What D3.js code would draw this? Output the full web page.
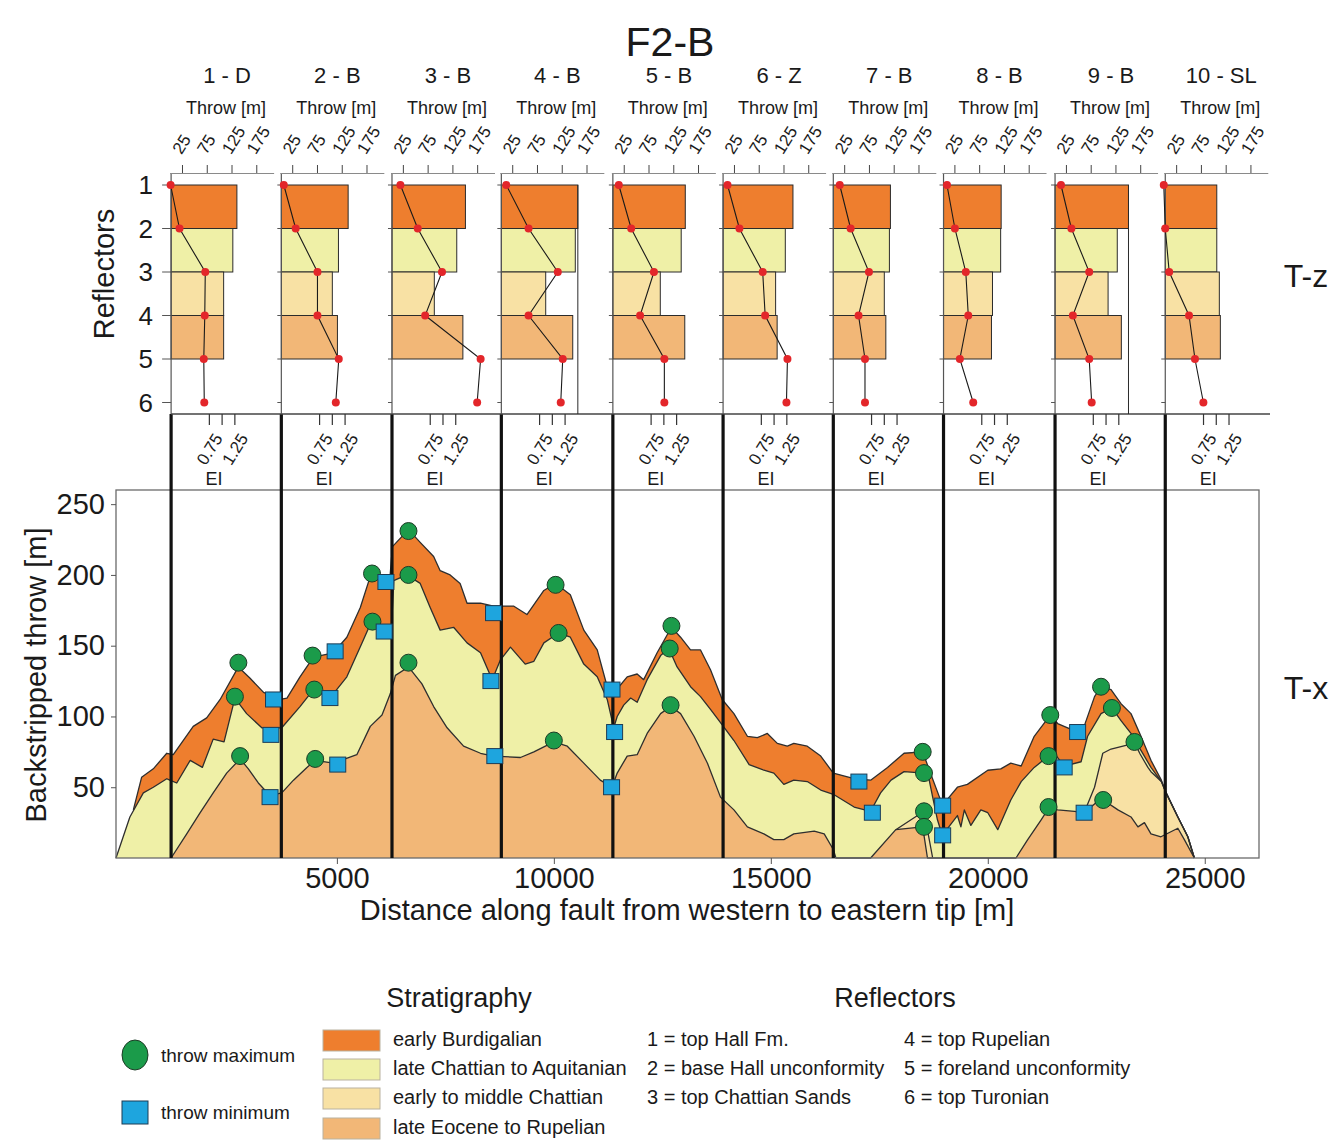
<!DOCTYPE html>
<html>
<head>
<meta charset="utf-8">
<script src="https://cdn.jsdelivr.net/npm/d3@7"></script>
<style>
  body { margin: 0; background: #fff; }
  text { font-family: "Liberation Sans", Arial, sans-serif; fill: #1a1a1a; }
</style>
</head>
<body>
<svg id="chart" width="1336" height="1141"></svg>
<script>
// ---- data ----
const sectionNames = ["1 - D", "2 - B", "3 - B", "4 - B", "5 - B", "6 - Z", "7 - B", "8 - B", "9 - B", "10 - SL"];
// distance of each section along the fault [m]
const sectionDist = [1180, 3720, 6270, 8790, 11360, 13900, 16440, 18980, 21550, 24090];
const reflectors = [1, 2, 3, 4, 5, 6];

// T-z: throw [m] at reflectors 1..6, per section
const throwAtReflector = [
  [2, 20, 72, 71, 69, 70],
  [8, 32, 76, 76, 119, 113],
  [20, 55, 104, 70, 182, 175],
  [13, 58, 117, 58, 127, 123],
  [15, 40, 86, 58, 107, 107],
  [12, 36, 83, 88, 133, 131],
  [16, 38, 75, 54, 67, 67],
  [10, 26, 48, 53, 36, 63],
  [15, 36, 72, 39, 72, 77],
  [0, 3, 11, 51, 63, 80]
];
// expansion index of the intervals 1-2, 2-3, 3-4, 4-5
const eiByInterval = [
  [1.29, 1.21, 1.03, 1.03],
  [1.31, 1.12, 1.00, 1.10],
  [1.44, 1.27, 0.83, 1.39],
  [1.50, 1.45, 0.87, 1.40],
  [1.42, 1.34, 0.93, 1.41],
  [1.37, 1.22, 1.03, 1.06],
  [1.12, 1.10, 1.00, 1.03],
  [1.13, 1.12, 0.96, 0.94],
  [1.44, 1.22, 1.04, 1.30],
  [1.01, 1.01, 1.06, 1.08]
];
// sections whose first EI bar edge runs down to the base line
const extendedEdge = [3, 8];

const throwTicks = [25, 75, 125, 175];
const eiTicks = [0.75, 1, 1.25];
const eiLabels = [0.75, 1.25];
const yTicks = [50, 100, 150, 200, 250];
const xTicks = [5000, 10000, 15000, 20000, 25000];

// T-x: backstripped throw [m] along the fault, top of each unit
const topBurdigalian = [
  [310, 34], [500, 57], [770, 63], [1080, 74], [1230, 73], [1690, 93], [2000, 99], [2310, 112],
  [2730, 135], [3000, 127], [3310, 117], [3690, 112], [3850, 113], [4150, 128], [4460, 142],
  [4920, 145], [5230, 156], [5540, 177], [5770, 199], [6070, 196], [6210, 193], [6280, 220],
  [6650, 232], [6920, 223], [7230, 213], [7380, 203], [7610, 200], [7840, 194], [8000, 180],
  [8310, 180], [8610, 178], [9070, 178], [9380, 172], [9770, 189], [10040, 194], [10380, 186],
  [10690, 161], [11000, 147], [11230, 121], [11340, 119], [11420, 118], [11690, 128], [11920, 130],
  [12070, 126], [12380, 145], [12710, 163], [12920, 156], [13150, 147], [13380, 147], [13610, 133],
  [13880, 112], [14150, 102], [14460, 86], [14690, 85], [14920, 88], [15150, 81], [15380, 79],
  [15530, 81], [15840, 79], [16150, 72], [16440, 60], [16920, 56], [17300, 55], [17690, 64],
  [18070, 74], [18500, 75], [18690, 59], [18960, 37], [19030, 40], [19300, 50], [19530, 52],
  [20000, 62], [20300, 63], [20530, 67], [20770, 65], [21070, 86], [21440, 101], [21610, 95],
  [22070, 89], [22220, 93], [22460, 114], [22610, 121], [22840, 119], [23070, 109], [23300, 102],
  [23530, 86], [23760, 69], [24000, 55], [24110, 46], [24380, 29], [24610, 15], [24760, 0]
];
const topAquitanian = [
  [-90, 0], [230, 29], [540, 46], [770, 50], [1080, 56], [1150, 55], [1310, 53], [1620, 69],
  [1900, 64], [2150, 84], [2400, 82], [2650, 113], [2920, 102], [3270, 92], [3730, 92], [4150, 107],
  [4460, 119], [4840, 113], [5230, 128], [5610, 154], [5810, 168], [6110, 160], [6250, 156],
  [6310, 196], [6610, 200], [6920, 194], [7150, 177], [7380, 161], [7690, 163], [8000, 152],
  [8310, 145], [8580, 126], [8770, 140], [9000, 149], [9340, 137], [9540, 139], [9770, 152],
  [10110, 159], [10380, 156], [10690, 137], [11000, 128], [11230, 112], [11380, 92], [11460, 100],
  [11610, 108], [11770, 113], [11920, 110], [12150, 126], [12460, 143], [12650, 148], [12840, 135],
  [13150, 121], [13380, 114], [13610, 105], [13880, 94], [14150, 83], [14500, 66], [14840, 62],
  [15070, 60], [15300, 52], [15530, 55], [15840, 54], [16150, 48], [16440, 45], [16920, 36],
  [17300, 33], [17530, 46], [17770, 55], [18070, 61], [18530, 60], [18650, 55], [18730, 43],
  [18840, 27], [18960, 15], [19000, 18], [19150, 24], [19300, 30], [19380, 22], [19460, 34],
  [19610, 23], [19840, 34], [20000, 32], [20230, 20], [20530, 41], [20770, 54], [21070, 64],
  [21400, 72], [21530, 74], [21760, 65], [22150, 68], [22300, 86], [22610, 102], [22860, 106],
  [23070, 97], [23300, 88], [23530, 76], [23760, 64], [24000, 54], [24110, 46], [24380, 29],
  [24610, 15], [24760, 0]
];
// early to middle Chattian only thickens in the east (two segments)
const topChattian = [
  [17880, 20], [18530, 33], [18730, 0],
  null,
  [22220, 32], [22460, 50], [22650, 74], [22840, 77], [23230, 80], [23380, 82], [23500, 74],
  [23690, 64], [23760, 61], [24000, 54], [24110, 46], [24380, 29], [24610, 15], [24760, 0]
];
const topRupelian = [
  [1180, 0], [1540, 17], [1850, 32], [2150, 46], [2460, 60], [2770, 70], [2960, 63], [3190, 53],
  [3460, 44], [3730, 46], [4000, 55], [4310, 64], [4500, 69], [4920, 67], [5460, 73], [5770, 93],
  [6040, 101], [6230, 116], [6350, 129], [6650, 135], [6960, 123], [7230, 107], [7540, 92],
  [7920, 79], [8310, 74], [8610, 72], [9230, 71], [9540, 75], [10000, 82], [10310, 79],
  [10690, 67], [11070, 55], [11340, 50], [11460, 60], [11690, 72], [11920, 73], [12150, 88],
  [12460, 102], [12690, 107], [12920, 102], [13230, 86], [13540, 67], [13840, 43], [14150, 34],
  [14460, 22], [14840, 17], [15070, 13], [15300, 13], [15530, 17], [16000, 19], [16230, 17],
  [16440, 6], [16500, 0], [17300, 0], [17880, 20], [18500, 22], [18610, 0], [20650, 0],
  [20920, 13], [21230, 27], [21400, 35], [21610, 34], [22000, 33], [22220, 32], [22610, 42],
  [23000, 34], [23300, 29], [23460, 22], [23610, 25], [23760, 17], [23990, 15], [24380, 21],
  [24530, 13], [24760, 0]
];

const throwMax = [
  [2730, 138], [2650, 114], [2770, 72], [4440, 143], [4480, 119], [4500, 70], [5810, 201],
  [5820, 167], [6650, 231], [6650, 200], [6650, 138], [10040, 193], [10110, 159], [10000, 83],
  [12710, 164], [12670, 148], [12690, 108], [18500, 75], [18530, 60], [18530, 33], [18530, 22],
  [21440, 101], [21400, 72], [21400, 36], [22610, 121], [22860, 106], [23380, 82], [22660, 41]
];
const throwMin = [
  [3540, 112], [3480, 87], [3460, 43], [4960, 146], [4840, 113], [5020, 66], [6130, 195],
  [6090, 160], [8610, 173], [8550, 125], [8640, 72], [11340, 119], [11400, 89], [11330, 50],
  [17030, 54], [17340, 32], [18960, 37], [18960, 16], [22070, 89], [21760, 64], [22220, 32]
];

const stratNames = ["early Burdigalian", "late Chattian to Aquitanian", "early to middle Chattian", "late Eocene to Rupelian"];
const stratColors = ["#ee7e2e", "#eff0a7", "#f8e1a4", "#f2b777"];
const reflectorNames = ["1 = top Hall Fm.", "2 = base Hall unconformity", "3 = top Chattian Sands",
  "4 = top Rupelian", "5 = foreland unconformity", "6 = top Turonian"];

// ---- drawing ----
const svg = d3.select("#chart");
svg.append("rect").attr("width", 1336).attr("height", 1141).attr("fill", "#fff");

const x = d3.scaleLinear().domain([-90, 26250]).range([116, 1259]);
const y = d3.scaleLinear().domain([0, 260]).range([858, 490]);

svg.append("text").attr("x", 670).attr("y", 56).attr("text-anchor", "middle")
  .style("font-size", "41px").text("F2-B");

// T-x plot: fill each unit from zero up to its top, oldest last
const area = d3.area().defined(d => d != null)
  .x(d => x(d[0])).y0(y(0)).y1(d => y(d[1]));
const line = d3.line().defined(d => d != null)
  .x(d => x(d[0])).y(d => y(d[1]));

const tops = [topBurdigalian, topAquitanian, topChattian, topRupelian];
const tx = svg.append("g");
tops.forEach((t, i) => {
  tx.append("path").attr("d", area(t)).attr("fill", stratColors[i]);
});
tops.forEach(t => {
  tx.append("path").attr("d", line(t)).attr("fill", "none")
    .attr("stroke", "#2e2e2e").attr("stroke-width", 1.3).attr("stroke-linejoin", "round");
});

svg.append("rect").attr("x", 116).attr("y", 490).attr("width", 1143).attr("height", 368)
  .attr("fill", "none").attr("stroke", "#6a6a6a").attr("stroke-width", 1.3);

// section lines
svg.selectAll(".sec").data(sectionDist).enter().append("line")
  .attr("x1", d => x(d)).attr("x2", d => x(d))
  .attr("y1", 414).attr("y2", 858)
  .attr("stroke", "#111").attr("stroke-width", 3.2);

// markers
svg.selectAll(".mx").data(throwMax).enter().append("circle")
  .attr("cx", d => x(d[0])).attr("cy", d => y(d[1])).attr("r", 8.5)
  .attr("fill", "#1b9b4a").attr("stroke", "#1d3b26").attr("stroke-width", 1);
svg.selectAll(".mn").data(throwMin).enter().append("rect")
  .attr("x", d => x(d[0]) - 8).attr("y", d => y(d[1]) - 7.5)
  .attr("width", 16).attr("height", 15)
  .attr("fill", "#1ea5de").attr("stroke", "#1d3c55").attr("stroke-width", 1);

// axes
const yAxis = svg.append("g").attr("transform", "translate(116,0)")
  .call(d3.axisLeft(y).tickValues(yTicks).tickSize(5).tickPadding(6));
const xAxis = svg.append("g").attr("transform", "translate(0,858)")
  .call(d3.axisBottom(x).tickValues(xTicks).tickFormat(d3.format("d")).tickSize(6).tickPadding(3));
[yAxis, xAxis].forEach(a => {
  a.select(".domain").remove();
  a.selectAll(".tick line").attr("stroke", "#555");
  a.selectAll(".tick text").style("font-size", "29px")
    .style("font-family", "'Liberation Sans', Arial, sans-serif").attr("fill", "#1a1a1a");
});

svg.append("text").attr("transform", "translate(46,675) rotate(-90)")
  .attr("text-anchor", "middle").style("font-size", "29px").text("Backstripped throw [m]");
svg.append("text").attr("x", 687).attr("y", 920).attr("text-anchor", "middle")
  .style("font-size", "29px").text("Distance along fault from western to eastern tip [m]");

// T-z panels
const ry = d3.scaleLinear().domain([1, 6]).range([185, 402.5]);
const thx = d3.scaleLinear().domain([0, 210]).range([-1.5, 102.5]);
const eix = d3.scaleLinear().domain([0, 1]).range([0, 51]);

svg.append("line").attr("x1", x(sectionDist[0])).attr("x2", 1270)
  .attr("y1", 414).attr("y2", 414).attr("stroke", "#444").attr("stroke-width", 1.5);

sectionDist.forEach((dist, i) => {
  const g = svg.append("g").attr("transform", `translate(${x(dist)},0)`);

  eiByInterval[i].forEach((v, j) => {
    g.append("rect").attr("x", 0).attr("y", ry(j + 1))
      .attr("width", eix(v)).attr("height", ry(j + 2) - ry(j + 1))
      .attr("fill", stratColors[j]).attr("stroke", "#2b2b2b").attr("stroke-width", 1);
  });
  if (extendedEdge.includes(i)) {
    g.append("line").attr("x1", eix(eiByInterval[i][0])).attr("x2", eix(eiByInterval[i][0]))
      .attr("y1", ry(1)).attr("y2", 414).attr("stroke", "#2b2b2b");
  }

  // left axis with reflector ticks
  g.append("line").attr("x1", 0).attr("x2", 0).attr("y1", 173).attr("y2", 414)
    .attr("stroke", "#555").attr("stroke-width", 1.2);
  g.selectAll(".rt").data(reflectors).enter().append("line")
    .attr("x1", i === 0 ? -9 : -4).attr("x2", 0)
    .attr("y1", d => ry(d)).attr("y2", d => ry(d)).attr("stroke", "#555");

  // throw profile
  const pts = throwAtReflector[i].map((t, k) => [thx(t), ry(k + 1)]);
  g.append("path").attr("d", d3.line()(pts)).attr("fill", "none")
    .attr("stroke", "#1a1a1a").attr("stroke-width", 1.1);
  g.selectAll(".dot").data(pts).enter().append("circle")
    .attr("cx", d => d[0]).attr("cy", d => d[1]).attr("r", 4).attr("fill", "#e3262a");

  // top throw axis
  const ta = g.append("g").attr("transform", "translate(0,173)")
    .call(d3.axisTop(thx).tickValues(throwTicks).tickSize(8).tickSizeOuter(0));
  ta.select(".domain").attr("stroke", "#8a8a8a");
  ta.selectAll(".tick line").attr("stroke", "#444");
  ta.selectAll(".tick text").attr("y", 0).attr("dy", "0.35em")
    .attr("text-anchor", "start").attr("transform", "translate(-6,-21) rotate(-58)")
    .style("font-size", "17px").style("font-family", "'Liberation Sans', Arial, sans-serif")
    .attr("fill", "#1a1a1a");

  // EI axis below
  g.selectAll(".et").data(eiTicks).enter().append("line")
    .attr("x1", d => eix(d)).attr("x2", d => eix(d)).attr("y1", 414).attr("y2", 425)
    .attr("stroke", "#333").attr("stroke-width", 1.2);
  g.selectAll(".el").data(eiLabels).enter().append("text")
    .attr("transform", d => `translate(${eix(d)},449) rotate(-58)`)
    .attr("text-anchor", "middle").attr("dy", "0.35em").style("font-size", "17px")
    .text(d => d.toFixed(2));
  g.append("text").attr("x", 43).attr("y", 485).attr("text-anchor", "middle")
    .style("font-size", "18px").text("EI");

  g.append("text").attr("x", 56).attr("y", 83).attr("text-anchor", "middle")
    .style("font-size", "22px").text(sectionNames[i]);
  g.append("text").attr("x", 55).attr("y", 114).attr("text-anchor", "middle")
    .style("font-size", "18px").text("Throw [m]");
});

// reflector labels on the first panel
svg.selectAll(".rl").data(reflectors).enter().append("text")
  .attr("x", 153).attr("y", d => ry(d)).attr("dy", "0.36em").attr("text-anchor", "end")
  .style("font-size", "26px").text(d => d);
svg.append("text").attr("transform", "translate(114,274) rotate(-90)")
  .attr("text-anchor", "middle").style("font-size", "29px").text("Reflectors");

svg.append("text").attr("x", 1306).attr("y", 287).attr("text-anchor", "middle")
  .style("font-size", "32px").text("T-z");
svg.append("text").attr("x", 1306).attr("y", 699).attr("text-anchor", "middle")
  .style("font-size", "32px").text("T-x");

// legend
const leg = svg.append("g");
leg.append("ellipse").attr("cx", 135).attr("cy", 1055).attr("rx", 13).attr("ry", 15)
  .attr("fill", "#1b9b4a").attr("stroke", "#1d3b26");
leg.append("text").attr("x", 161).attr("y", 1055).attr("dy", "0.35em")
  .style("font-size", "19px").text("throw maximum");
leg.append("rect").attr("x", 122).attr("y", 1101).attr("width", 26).attr("height", 23)
  .attr("fill", "#1ea5de").attr("stroke", "#1d3c55");
leg.append("text").attr("x", 161).attr("y", 1112).attr("dy", "0.35em")
  .style("font-size", "19px").text("throw minimum");

leg.append("text").attr("x", 459).attr("y", 1007).attr("text-anchor", "middle")
  .style("font-size", "27px").text("Stratigraphy");
const rowY = [1039, 1068, 1097, 1127];
stratNames.forEach((s, i) => {
  leg.append("rect").attr("x", 323).attr("y", rowY[i] - 9).attr("width", 57).attr("height", 21)
    .attr("fill", stratColors[i]).attr("stroke", "#b9b2a0");
  leg.append("text").attr("x", 393).attr("y", rowY[i]).attr("dy", "0.35em")
    .style("font-size", "20px").text(s);
});

leg.append("text").attr("x", 895).attr("y", 1007).attr("text-anchor", "middle")
  .style("font-size", "27px").text("Reflectors");
reflectorNames.forEach((s, i) => {
  leg.append("text").attr("x", i < 3 ? 647 : 904).attr("y", rowY[i % 3]).attr("dy", "0.35em")
    .style("font-size", "20px").text(s);
});
</script>
</body>
</html>
